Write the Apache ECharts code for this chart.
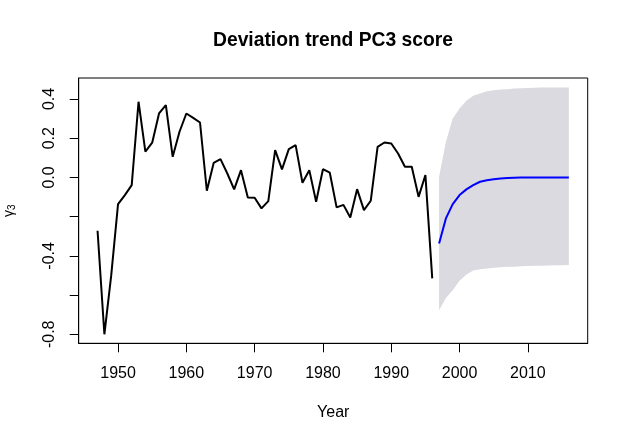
<!DOCTYPE html>
<html>
<head>
<meta charset="utf-8">
<script src="https://cdn.jsdelivr.net/npm/echarts@6/dist/echarts.min.js"></script>
<style>html,body{margin:0;padding:0;background:#fff;}#c{width:629px;height:442px;}</style>
</head>
<body>
<div id="c"></div>
<script>
// Observed series 1947-1996
var obsYears = [];
for (var yr = 1947; yr <= 1996; yr++) obsYears.push(yr);
var obsValues = [
  -0.272, -0.800, -0.500, -0.136, -0.090, -0.039, 0.386, 0.131, 0.177, 0.326,
   0.369, 0.105, 0.233, 0.326, 0.304, 0.280, -0.068, 0.074, 0.093, 0.020,
  -0.061, 0.037, -0.102, -0.104, -0.158, -0.121, 0.139, 0.041, 0.144, 0.165,
  -0.027, 0.037, -0.124, 0.042, 0.024, -0.153, -0.140, -0.204, -0.060, -0.167,
  -0.119, 0.156, 0.178, 0.173, 0.122, 0.054, 0.054, -0.099, 0.012, -0.515
];
// Forecast 1997-2016
var fcYears = [];
for (var fy = 1997; fy <= 2016; fy++) fcYears.push(fy);
var fcMean = [
  -0.337, -0.209, -0.136, -0.090, -0.061, -0.039, -0.022, -0.014, -0.009, -0.005,
  -0.003, -0.002, -0.001, 0.000, 0.000, 0.000, 0.000, 0.000, 0.000, 0.000
];
var fcUpper = [
  0.003, 0.180, 0.300, 0.352, 0.391, 0.416, 0.428, 0.440, 0.445, 0.448,
  0.450, 0.453, 0.455, 0.456, 0.457, 0.458, 0.458, 0.459, 0.459, 0.459
];
var fcLower = [
  -0.677, -0.615, -0.575, -0.527, -0.495, -0.475, -0.468, -0.465, -0.461, -0.458,
  -0.456, -0.455, -0.453, -0.452, -0.451, -0.450, -0.449, -0.448, -0.448, -0.447
];
var xTicks = [1950, 1960, 1970, 1980, 1990, 2000, 2010];
var yTicks = [-0.8, -0.6, -0.4, -0.2, 0.0, 0.2, 0.4];
var yTickLabels = ['-0.8', '', '-0.4', '', '0.0', '0.2', '0.4'];

var FONT = 'Liberation Sans, Arial, sans-serif';
var chart = echarts.init(document.getElementById('c'));

var option = {
  animation: false,
  backgroundColor: '#ffffff',
  title: {
    text: 'Deviation trend PC3 score',
    left: 328, top: 26, textAlign: 'center',
    textStyle: {fontFamily: FONT, fontSize: 19.3, fontWeight: 'bold', color: '#000'}
  },
  grid: {
    left: 78.7, top: 78, right: 41.3, bottom: 98.7,
    outerBoundsMode: 'none',
    show: true, borderColor: '#000', borderWidth: 1
  },
  xAxis: {
    type: 'value', min: 1944.24, max: 2018.76,
    name: 'Year', nameLocation: 'middle', nameGap: 61,
    nameTextStyle: {fontFamily: FONT, fontSize: 16, color: '#000'},
    axisLine: {show: true, onZero: false, lineStyle: {color: '#000', width: 1}},
    splitLine: {show: false},
    axisTick: {show: true, length: 9, lineStyle: {color: '#000', width: 1}, customValues: xTicks},
    axisLabel: {
      fontFamily: FONT, fontSize: 16, color: '#000', margin: 22,
      customValues: xTicks,
      formatter: function (v) { return String(Math.round(v)); }
    }
  },
  yAxis: {
    type: 'value', min: -0.846, max: 0.507,
    name: '{g|γ}{s|3}', nameLocation: 'middle', nameGap: 61, nameRotate: 90,
    nameTextStyle: {
      fontFamily: FONT, color: '#000',
      rich: {
        g: {fontFamily: FONT, fontSize: 14, color: '#000'},
        s: {fontFamily: FONT, fontSize: 10, color: '#000', padding: [7, 0, 0, 0]}
      }
    },
    axisLine: {show: true, onZero: false, lineStyle: {color: '#000', width: 1}},
    splitLine: {show: false},
    axisTick: {show: true, length: 9, lineStyle: {color: '#000', width: 1}, customValues: yTicks},
    axisLabel: {
      fontFamily: FONT, fontSize: 16, color: '#000', margin: 21, rotate: 90,
      customValues: yTicks,
      formatter: function (v) {
        for (var i = 0; i < yTicks.length; i++) {
          if (Math.abs(yTicks[i] - v) < 1e-6) return yTickLabels[i];
        }
        return '';
      }
    }
  },
  series: [
    {
      type: 'custom',
      clip: true,
      silent: true,
      data: fcYears.map(function (y, i) { return [y, fcLower[i], fcUpper[i]]; }),
      encode: {x: 0, y: [1, 2]},
      renderItem: function (params, api) {
        if (params.dataIndex !== 0) return null;
        var pts = [];
        for (var i = 0; i < fcYears.length; i++) pts.push(api.coord([fcYears[i], fcUpper[i]]));
        for (var j = fcYears.length - 1; j >= 0; j--) pts.push(api.coord([fcYears[j], fcLower[j]]));
        return {type: 'polygon', shape: {points: pts}, style: {fill: '#DADAE0', stroke: null}};
      },
      z: 1
    },
    {
      type: 'line',
      data: obsYears.map(function (y, i) { return [y, obsValues[i]]; }),
      showSymbol: false, symbol: 'none',
      lineStyle: {color: '#000', width: 2},
      z: 3
    },
    {
      type: 'line',
      data: fcYears.map(function (y, i) { return [y, fcMean[i]]; }),
      showSymbol: false, symbol: 'none',
      lineStyle: {color: '#0000FF', width: 2},
      z: 3
    }
  ]
};
chart.setOption(option);
</script>
</body>
</html>
